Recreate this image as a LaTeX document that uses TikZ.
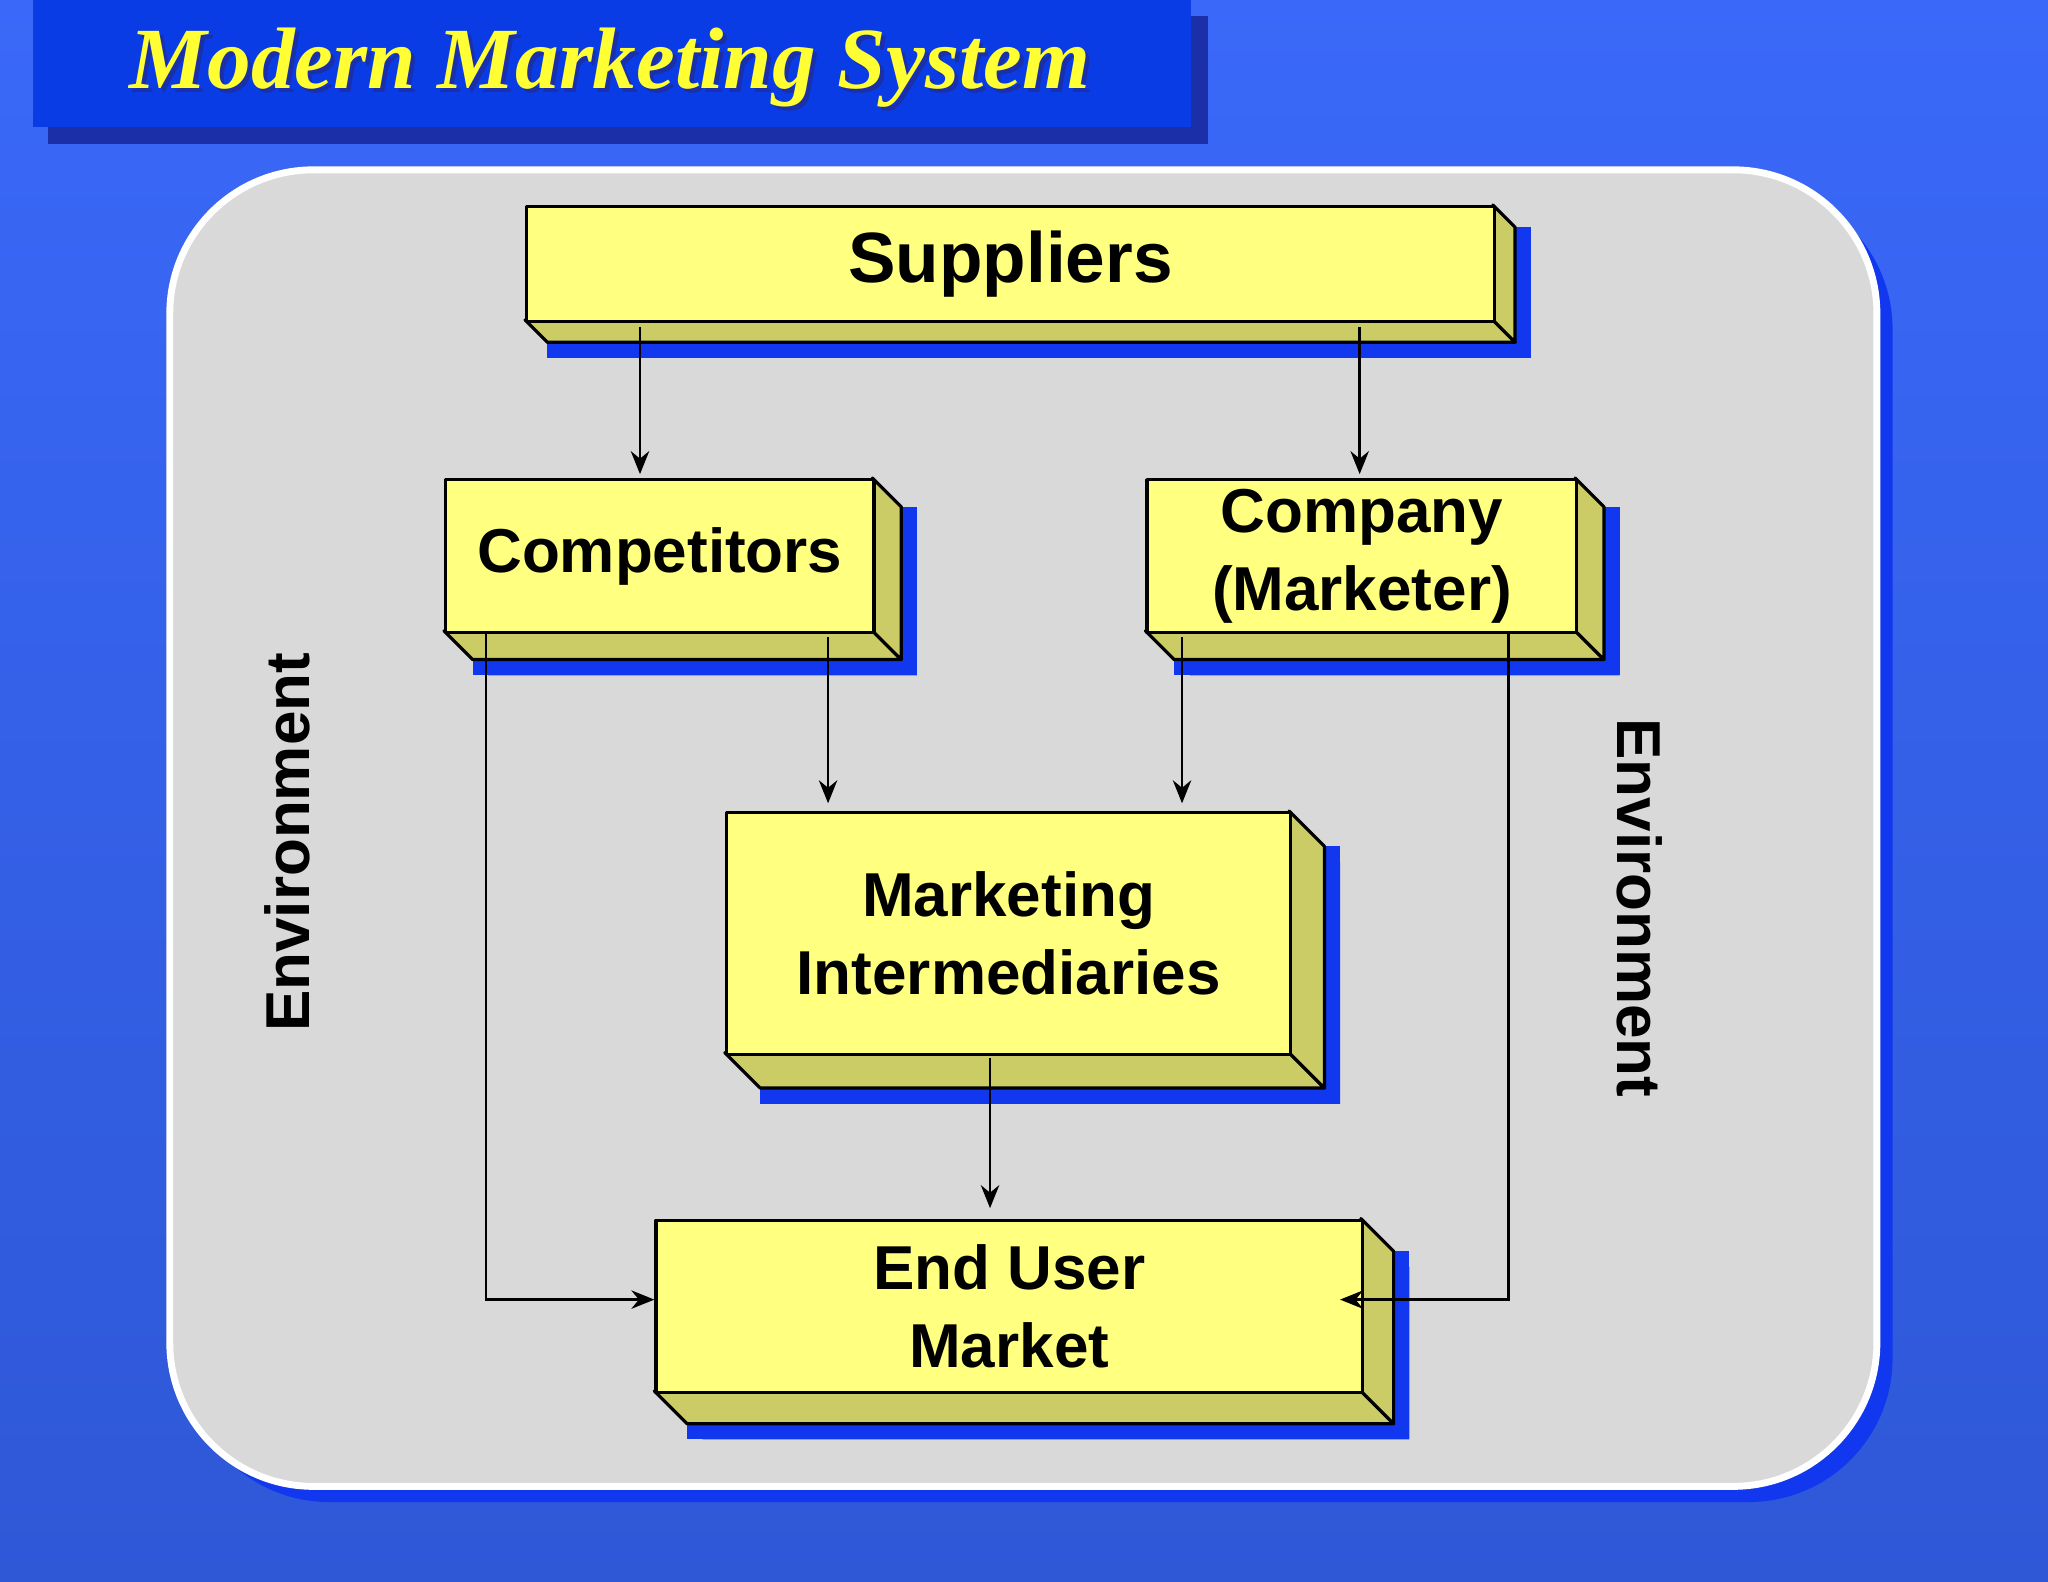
\documentclass[tikz,border=0pt]{standalone}
\usepackage{fontspec}
\setmainfont{Liberation Sans}
\newfontfamily\titlefont{Liberation Serif}
\definecolor{bgtop}{HTML}{3A68F8}
\definecolor{bgbot}{HTML}{2E58D6}
\definecolor{ttl}{HTML}{0A3CE6}
\definecolor{ttlsh}{HTML}{1A2FA8}
\definecolor{panel}{HTML}{D9D9D9}
\definecolor{shblue}{HTML}{1138EE}
\definecolor{yfront}{HTML}{FFFF80}
\definecolor{yside}{HTML}{CCCC66}
\definecolor{tyel}{HTML}{FFFF33}
\tikzset{
  face/.style={draw=black,line width=0.7pt,line join=round},
  lbl/.style={font=\fontsize{13.5}{17}\selectfont\bfseries,align=center},
  arr/.style={draw=black,line width=0.6pt,-{Stealth[length=5pt,width=4pt]}},
  env/.style={font=\fontsize{13.5}{17}\selectfont\bfseries}
}
\usetikzlibrary{arrows.meta}
\newcommand\tdb[7]{%
  \fill[shblue] ({#2+12},{#5+12}) -- ({#2+#6+12},{#5+#6+12}) -- ({#4+#6+12},{#5+#6+12}) -- ({#4+#6+12},{#3+#6+12}) -- ({#4+12},{#3+12}) -- cycle;
  \fill[shblue] ({#2+#6},{#5+#6}) rectangle ({#4+#6+12},{#5+#6+12});
  \fill[shblue] ({#4+#6},{#3+#6}) rectangle ({#4+#6+12},{#5+#6+12});
  \filldraw[face,fill=yside] (#2,#5) -- (#4,#5) -- ({#4+#6},{#5+#6}) -- ({#2+#6},{#5+#6}) -- cycle;
  \filldraw[face,fill=yside] (#4,#3) -- ({#4+#6},{#3+#6}) -- ({#4+#6},{#5+#6}) -- (#4,#5) -- cycle;
  \node[face,fill=yfront,inner sep=0pt,minimum width={(#4-#2)*0.01cm},minimum height={(#5-#3)*0.01cm},anchor=north west] (#1) at (#2,#3) {};
  \node[lbl] at (#1.center) {#7};
}
\begin{document}
\begin{tikzpicture}[x=0.01cm,y=-0.01cm]
\shade[top color=bgtop,bottom color=bgbot] (0,0) rectangle (1568,1211);
\useasboundingbox (0,0) rectangle (1568,1211);
% title
\fill[ttlsh] (37,12) rectangle (925,110);
\fill[ttl] (25,0) rectangle (912,97);
\node[font=\titlefont\fontsize{19}{22}\selectfont\bfseries\itshape,text=ttlsh] at (470,55) {Modern Marketing System};
\node[font=\titlefont\fontsize{19}{22}\selectfont\bfseries\itshape,text=tyel] (title) at (467,52) {Modern Marketing System};
% panel
\fill[shblue,rounded corners=1.1cm] (142,142) rectangle (1449,1150);
\filldraw[fill=panel,draw=white,line width=1.5pt,rounded corners=1.1cm] (130,130) rectangle (1437,1138);
% boxes
\tdb{sup}{402}{157}{1143}{245}{17}{\fontsize{15.5}{19}\selectfont Suppliers}
\tdb{comp}{340}{366}{668}{483}{22}{Competitors}
\tdb{co}{877}{366}{1206}{483}{22}{Company\\(Marketer)}
\tdb{mi}{555}{621}{987}{806}{27}{Marketing\\Intermediaries}
\tdb{eu}{501}{933}{1042}{1065}{25}{End User\\Market}
% arrows
\draw[arr] (490,250) -- (490,363);
\draw[arr] (1041,250) -- (1041,363);
\draw[arr] (634,488) -- (634,615);
\draw[arr] (905,488) -- (905,615);
\draw[arr] (758,810) -- (758,925);
\draw[arr] (372,485) -- (372,995) -- (501,995);
\draw[arr] (1155,485) -- (1155,995) -- (1026,995);
% environment
\node[env,rotate=90] at (220,645) {Environment};
\node[env,rotate=-90] at (1255,695) {Environment};
\end{tikzpicture}
\end{document}
